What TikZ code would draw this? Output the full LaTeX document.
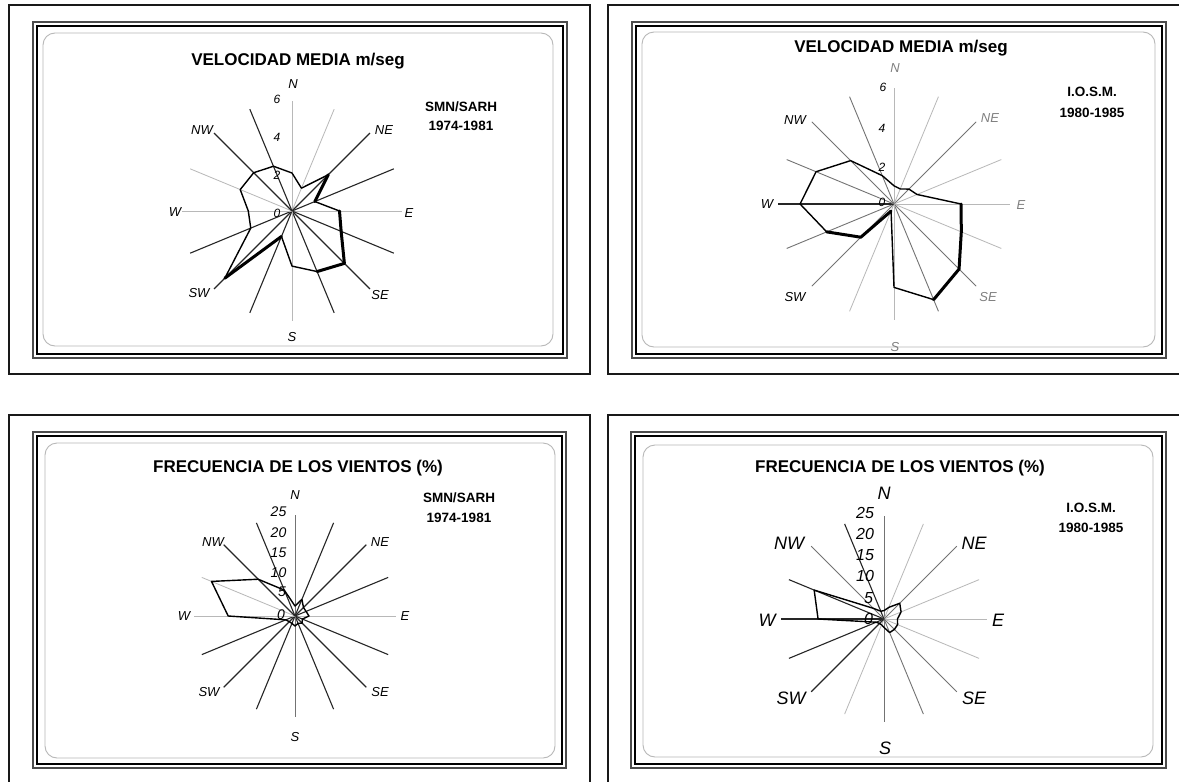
\documentclass[tikz,border=0pt]{standalone}
\usepackage{fontspec}
\setmainfont{Liberation Sans}
\begin{document}
\begin{tikzpicture}[x=1pt,y=-1pt,
  outerframe/.style={draw=black!90, line width=2pt},
  frameA/.style={draw=black!70, line width=1.6pt},
  frameB/.style={draw=black, line width=1.1pt},
  roundframe/.style={draw=black!28, line width=0.9pt, rounded corners=12pt},
  dk/.style={draw=black!85, line width=1.1pt},
  md/.style={draw=black!55, line width=0.9pt},
  lt/.style={draw=black!28, line width=0.8pt},
  poly/.style={draw=black, line width=1.4pt, line join=round},
  polythick/.style={draw=black, line width=3pt, line cap=round, line join=round},
  title/.style={font=\bfseries\fontsize{17}{20}\selectfont, inner sep=0pt},
  src/.style={font=\bfseries\fontsize{13.5}{16}\selectfont, inner sep=0pt},
  dirlab/.style={font=\itshape\fontsize{13}{15}\selectfont, inner sep=0pt},
  dirbig/.style={font=\itshape\fontsize{18}{20}\selectfont, inner sep=0pt},
  numlab/.style={font=\itshape\fontsize{12}{14}\selectfont, inner sep=0pt},
  numbig/.style={font=\itshape\fontsize{14}{16}\selectfont, inner sep=0pt},
  numhuge/.style={font=\itshape\fontsize{16}{18}\selectfont, inner sep=0pt},
  graylab/.style={text=black!50},
]
\useasboundingbox (0,0) rectangle (1179,782);
\fill[white] (0,0) rectangle (1179,782);

% ================= Panel 1 (top-left) =================
\draw[outerframe] (9,5) rectangle (590,374);
\draw[frameA] (33,22) rectangle (567,358);
\draw[frameB] (37,26) rectangle (563,354);
\draw[roundframe] (43,33) rectangle (553,346);
\node[title] (t1) at (298,61) {VELOCIDAD MEDIA m/seg};
\node[src] (s1a) at (461,107) {SMN/SARH};
\node[src] (s1b) at (461,126) {1974-1981};
\begin{scope}[shift={(292,211)}, scale=19]
  \coordinate (c1) at (0,0);
  \foreach \k/\s in {0/lt,1/lt,2/dk,3/dk,4/lt,5/dk,6/dk,7/dk,8/lt,9/dk,10/dk,11/dk,12/lt,13/lt,14/dk,15/dk}
    \draw[\s] (c1) -- (-90+22.5*\k:5.8) coordinate (e1-\k);
  \foreach \k/\r in {0/2.0,1/1.3,2/2.7,3/1.3,4/2.5,5/2.8,6/3.9,7/3.45,8/2.9,9/1.45,10/5.0,11/2.35,12/2.3,13/2.95,14/2.85,15/2.55}
    \coordinate (v1-\k) at (-90+22.5*\k:\r);
  \draw[poly] (v1-0) \foreach \k in {1,...,15}{ -- (v1-\k)} -- cycle;
  \draw[polythick] (v1-2) -- (v1-3);
  \draw[polythick] (v1-4) -- (v1-5) -- (v1-6) -- (v1-7);
  \draw[polythick] (v1-10) -- (v1-9);
\end{scope}
\node[dirlab] (n1N) at (293,84) {N};
\node[dirlab] (n1NW) at (202,130) {NW};
\node[dirlab] (n1NE) at (384,130) {NE};
\node[dirlab] (n1W) at (175,212) {W};
\node[dirlab] (n1E) at (409,213) {E};
\node[dirlab] (n1SW) at (199,293) {SW};
\node[dirlab] (n1SE) at (380,295) {SE};
\node[dirlab] (n1S) at (292,337) {S};
\node[numlab] (g1a) at (277,99) {6};
\node[numlab] (g1b) at (277,137) {4};
\node[numlab] (g1c) at (277,175) {2};
\node[numlab] (g1d) at (277,213) {0};

% ================= Panel 2 (top-right) =================
\draw[outerframe] (608,5) rectangle (1185,374);
\draw[frameA] (632,22) rectangle (1166,358);
\draw[frameB] (636,26) rectangle (1162,354);
\draw[roundframe] (642,32) rectangle (1155,347);
\node[title] (t2) at (901,48) {VELOCIDAD MEDIA m/seg};
\node[src] (s2a) at (1092,92) {I.O.S.M.};
\node[src] (s2b) at (1092,113) {1980-1985};
\begin{scope}[shift={(894,204)}, scale=19.2]
  \coordinate (c2) at (0,0);
  \foreach \k/\s in {0/lt,1/lt,2/md,3/lt,4/lt,5/lt,6/md,7/md,8/lt,9/lt,10/md,11/md,12/dk,13/md,14/md,15/md}
    \draw[\s] (c2) -- (-90+22.5*\k:6.05) coordinate (e2-\k);
  \foreach \k/\r in {0/0.95,1/0.85,2/1.1,3/1.3,4/3.5,5/3.8,6/4.8,7/5.4,8/4.35,9/0.4,10/2.45,11/3.8,12/4.9,13/4.4,14/3.2,15/1.6}
    \coordinate (v2-\k) at (-90+22.5*\k:\r);
  \draw[poly] (v2-0) \foreach \k in {1,...,15}{ -- (v2-\k)} -- cycle;
  \draw[polythick] (v2-4) -- (v2-5) -- (v2-6) -- (v2-7);
  \draw[polythick] (v2-11) -- (v2-10) -- (v2-9);
\end{scope}
\node[dirlab, graylab] (n2N) at (895,68) {N};
\node[dirlab] (n2NW) at (795,120) {NW};
\node[dirlab, graylab] (n2NE) at (990,118) {NE};
\node[dirlab] (n2W) at (767,204) {W};
\node[dirlab, graylab] (n2E) at (1021,205) {E};
\node[dirlab] (n2SW) at (795,297) {SW};
\node[dirlab, graylab] (n2SE) at (988,297) {SE};
\node[dirlab, graylab] (n2S) at (895,347) {S};
\node[numlab] (g2a) at (883,87) {6};
\node[numlab] (g2b) at (882,128) {4};
\node[numlab] (g2c) at (882,167) {2};
\node[numlab] (g2d) at (882,202) {0};

% ================= Panel 3 (bottom-left) =================
\draw[outerframe] (9,415) rectangle (590,786);
\draw[frameA] (33,432) rectangle (566,768);
\draw[frameB] (37,436) rectangle (562,764);
\draw[roundframe] (45,443) rectangle (555,758);
\node[title] (t3) at (298,468) {FRECUENCIA DE LOS VIENTOS (\%)};
\node[src] (s3a) at (459,498) {SMN/SARH};
\node[src] (s3b) at (459,518) {1974-1981};
\begin{scope}[shift={(295,616)}, scale=4]
  \coordinate (c3) at (0,0);
  \foreach \k/\s in {0/md,1/dk,2/dk,3/dk,4/lt,5/dk,6/dk,7/dk,8/md,9/dk,10/dk,11/dk,12/lt,13/lt,14/dk,15/dk}
    \draw[\s] (c3) -- (-90+22.5*\k:25.2) coordinate (e3-\k);
  \foreach \k/\r in {0/2.5,1/4.5,2/3,3/3,4/3.5,5/2,6/2.5,7/2,8/2.5,9/2,10/2,11/2.5,12/16.7,13/22.6,14/13,15/7}
    \coordinate (v3-\k) at (-90+22.5*\k:\r);
  \draw[poly] (v3-0) \foreach \k in {1,...,15}{ -- (v3-\k)} -- cycle;
\end{scope}
\node[dirlab] (n3N) at (295,495) {N};
\node[dirlab] (n3NW) at (213,542) {NW};
\node[dirlab] (n3NE) at (380,542) {NE};
\node[dirlab] (n3W) at (184,616) {W};
\node[dirlab] (n3E) at (405,616) {E};
\node[dirlab] (n3SW) at (209,692) {SW};
\node[dirlab] (n3SE) at (380,692) {SE};
\node[dirlab] (n3S) at (295,737) {S};
\node[numbig] (g3a) at (278.5,512) {25};
\node[numbig] (g3b) at (278.5,533) {20};
\node[numbig] (g3c) at (278.5,553) {15};
\node[numbig] (g3d) at (278.5,573) {10};
\node[numbig] (g3e) at (282,592) {5};
\node[numbig] (g3f) at (281,615) {0};

% ================= Panel 4 (bottom-right) =================
\draw[outerframe] (608,415) rectangle (1185,786);
\draw[frameA] (631,432) rectangle (1166,768);
\draw[frameB] (635,436) rectangle (1162,764);
\draw[roundframe] (643,445) rectangle (1153,757);
\node[title] (t4) at (900,468) {FRECUENCIA DE LOS VIENTOS (\%)};
\node[src] (s4a) at (1091,508) {I.O.S.M.};
\node[src] (s4b) at (1091,528) {1980-1985};
\begin{scope}[shift={(884,619)}, scale=4.2]
  \coordinate (c4) at (0,0);
  \foreach \k/\s in {0/md,1/lt,2/md,3/lt,4/lt,5/lt,6/md,7/md,8/md,9/lt,10/dk,11/dk,12/dk,13/dk,14/md,15/dk}
    \draw[\s] (c4) -- (-90+22.5*\k:24.5) coordinate (e4-\k);
  \foreach \k/\r in {0/2,1/3,2/5.3,3/4.4,4/3.2,5/3.5,6/3.5,7/3.5,8/2,9/1.5,10/1.5,11/2,12/15.7,13/18,14/3.6,15/2}
    \coordinate (v4-\k) at (-90+22.5*\k:\r);
  \draw[poly] (v4-0) \foreach \k in {1,...,15}{ -- (v4-\k)} -- cycle;
\end{scope}
\node[dirbig] (n4N) at (884,493) {N};
\node[dirbig] (n4NW) at (789,543) {NW};
\node[dirbig] (n4NE) at (974,543) {NE};
\node[dirbig] (n4W) at (767,620) {W};
\node[dirbig] (n4E) at (998,620) {E};
\node[dirbig] (n4SW) at (791,698) {SW};
\node[dirbig] (n4SE) at (974,698) {SE};
\node[dirbig] (n4S) at (885,748) {S};
\node[numhuge] (g4a) at (865,513) {25};
\node[numhuge] (g4b) at (865,534) {20};
\node[numhuge] (g4c) at (865,555) {15};
\node[numhuge] (g4d) at (865,576) {10};
\node[numhuge] (g4e) at (868.5,598) {5};
\node[numhuge] (g4f) at (868.5,619) {0};
\end{tikzpicture}
\end{document}
